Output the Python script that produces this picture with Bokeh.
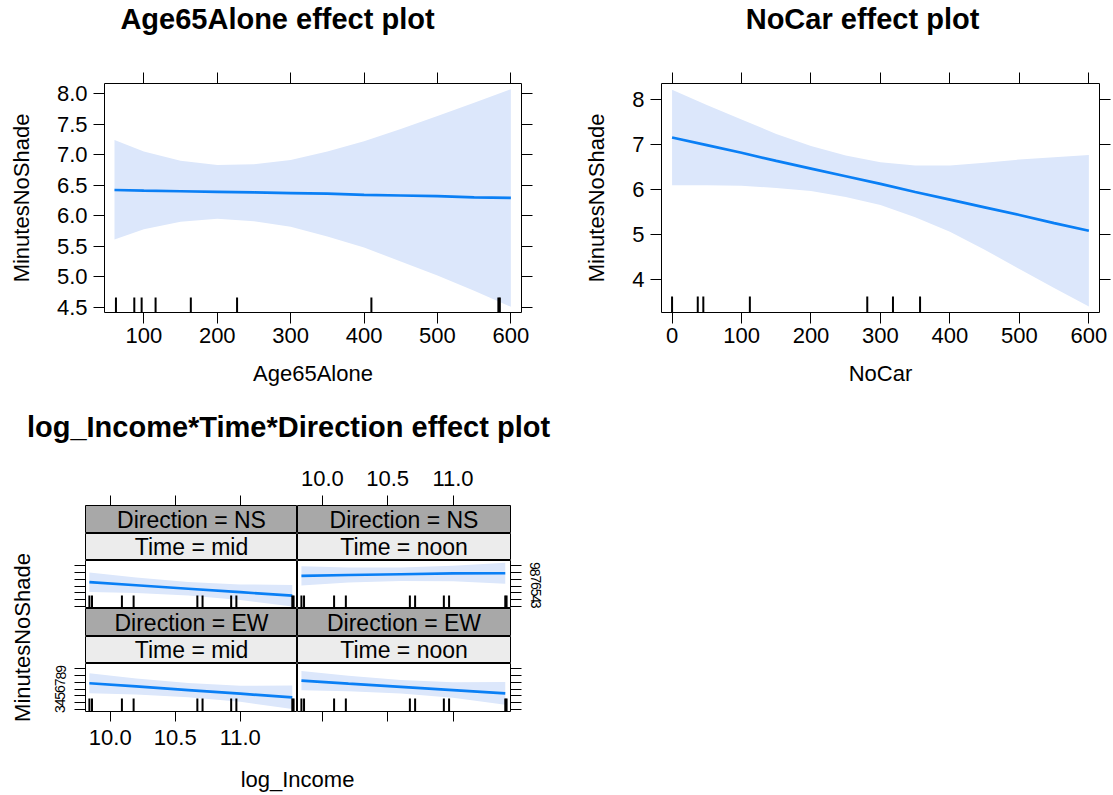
from math import pi
from bokeh.plotting import figure
from bokeh.layouts import column, row
from bokeh.models import FixedTicker, LinearAxis, Range1d, NumeralTickFormatter
from bokeh.embed import file_html
from bokeh.resources import INLINE
from bokeh.core.properties import value

FONT = "Liberation Sans"
LINE_COLOR = "#0a7ff5"
BAND_COLOR = "#dce7fb"
STRIP_DARK = "#a8a8a8"
STRIP_LIGHT = "#ececec"

# ---------------- data ----------------
age65_x = [60, 100, 150, 200, 250, 300, 350, 400, 450, 500, 550, 600]
age65_fit = [6.42, 6.41, 6.40, 6.39, 6.38, 6.37, 6.36, 6.34, 6.33, 6.32, 6.30, 6.29]
age65_upper = [7.24, 7.05, 6.90, 6.83, 6.84, 6.91, 7.05, 7.22, 7.42, 7.63, 7.85, 8.07]
age65_lower = [5.61, 5.78, 5.90, 5.95, 5.91, 5.82, 5.66, 5.48, 5.25, 5.02, 4.77, 4.51]
age65_rug = [62, 87, 97, 116, 164, 227, 410, 583, 585]
age65_xticks = [100, 200, 300, 400, 500, 600]
age65_yticks = [4.5, 5.0, 5.5, 6.0, 6.5, 7.0, 7.5, 8.0]

nocar_x = [0, 50, 100, 150, 200, 250, 300, 350, 400, 450, 500, 550, 600]
nocar_fit = [7.16, 6.99, 6.82, 6.64, 6.47, 6.30, 6.13, 5.95, 5.78, 5.61, 5.44, 5.26, 5.09]
nocar_upper = [8.22, 7.88, 7.56, 7.24, 6.97, 6.76, 6.61, 6.54, 6.54, 6.60, 6.67, 6.72, 6.77]
nocar_lower = [6.10, 6.10, 6.09, 6.04, 5.97, 5.84, 5.66, 5.39, 5.07, 4.67, 4.24, 3.82, 3.41]
nocar_rug = [0, 37, 45, 112, 281, 318, 357]
nocar_xticks = [0, 100, 200, 300, 400, 500, 600]
nocar_yticks = [4, 5, 6, 7, 8]

income_x = [9.84, 10.2, 10.6, 11.0, 11.40]
ns_mid_fit = [6.57, 6.11, 5.59, 5.08, 4.56]
ns_mid_upper = [8.02, 7.26, 6.59, 6.23, 6.16]
ns_mid_lower = [5.12, 4.96, 4.59, 3.93, 2.96]
ns_noon_fit = [7.52, 7.64, 7.75, 7.87, 7.90]
ns_noon_upper = [8.96, 8.74, 8.75, 9.02, 9.45]
ns_noon_lower = [6.08, 6.54, 6.75, 6.72, 6.35]
ew_mid_fit = [6.86, 6.38, 5.84, 5.30, 4.76]
ew_mid_upper = [8.36, 7.58, 6.89, 6.50, 6.51]
ew_mid_lower = [5.36, 5.18, 4.79, 4.10, 3.01]
ew_noon_fit = [7.25, 6.81, 6.33, 5.84, 5.36]
ew_noon_upper = [8.70, 7.96, 7.33, 6.99, 7.06]
ew_noon_lower = [5.80, 5.66, 5.33, 4.69, 3.66]
income_rug = [9.84, 9.86, 10.09, 10.18, 10.67, 10.71, 10.93, 10.97, 11.40, 11.41]
income_xticks = [10.0, 10.5, 11.0]
panel_yticks = [3, 4, 5, 6, 7, 8, 9]

titles = ["Age65Alone effect plot", "NoCar effect plot", "log_Income*Time*Direction effect plot"]


def base_fig(width, height, xr, yr, bl, br, bt, bb, bg="white"):
    p = figure(width=width, height=height, x_range=xr, y_range=yr,
               toolbar_location=None, output_backend="svg",
               x_axis_location=None, y_axis_location=None,
               min_border_left=bl, min_border_right=br,
               min_border_top=bt, min_border_bottom=bb,
               background_fill_color=bg, border_fill_color="white",
               outline_line_color="black", outline_line_width=1)
    p.grid.visible = False
    return p


def add_axis(p, side, ticks, labels=True, size="22px", tick_out=11, standoff=5,
             label=None, label_standoff=18, orient=None, fmt=None):
    ax = LinearAxis(ticker=FixedTicker(ticks=ticks))
    ax.major_tick_out = tick_out
    ax.major_tick_in = 0
    ax.minor_tick_out = 0
    ax.minor_tick_in = 0
    ax.axis_line_color = None
    ax.major_tick_line_color = "black"
    ax.major_tick_line_width = 1
    ax.major_label_text_font = FONT
    if labels:
        ax.major_label_text_color = "black"
        ax.major_label_text_font_size = size
        ax.major_label_standoff = standoff
    else:
        # tick marks only: labels are not painted
        ax.major_label_text_color = None
        ax.major_label_text_font_size = "2px"
        ax.major_label_standoff = 0
    if orient is not None:
        ax.major_label_orientation = orient
    if fmt is not None:
        ax.formatter = NumeralTickFormatter(format=fmt)
    if label is not None:
        ax.axis_label = label
        ax.axis_label_text_font = FONT
        ax.axis_label_text_font_size = "22px"
        ax.axis_label_text_font_style = "normal"
        ax.axis_label_text_color = "black"
        ax.axis_label_standoff = label_standoff
    p.add_layout(ax, side)
    return ax


def draw_effect(p, x, fit, lower, upper, rug, rug_frac):
    p.varea(x=x, y1=lower, y2=upper, fill_color=BAND_COLOR, fill_alpha=1.0)
    p.line(x=x, y=fit, line_color=LINE_COLOR, line_width=2.7)
    y0 = p.y_range.start
    y1 = y0 + rug_frac * (p.y_range.end - p.y_range.start)
    p.segment(x0=rug, y0=[y0] * len(rug), x1=rug, y1=[y1] * len(rug),
              line_color="black", line_width=2)


def text_fig(width, height, texts, xs, ys, size, bold=False, angle=0.0):
    p = figure(width=width, height=height, x_range=Range1d(0, width), y_range=Range1d(0, height),
               toolbar_location=None, output_backend="svg",
               x_axis_location=None, y_axis_location=None, min_border=0,
               outline_line_color=None, border_fill_color="white", background_fill_color="white")
    p.grid.visible = False
    p.text(x=xs, y=ys, text=texts, text_align="center", text_baseline="middle",
           text_font=value(FONT), text_font_size=size,
           text_font_style="bold" if bold else "normal", text_color="black", angle=angle)
    return p


# ---------------- header (titles of the two top panels) ----------------
hdr = text_fig(1113, 40, titles[:2], [277, 862], [22, 22], "29px", bold=True)

# ---------------- top row ----------------
figA = base_fig(565, 360, Range1d(46.4, 614.5), Range1d(4.416, 8.163), 104, 44, 43, 88)
add_axis(figA, "below", age65_xticks, standoff=4, label="Age65Alone", label_standoff=15)
add_axis(figA, "left", age65_yticks, standoff=6, label="MinutesNoShade", label_standoff=20, fmt="0.0")
add_axis(figA, "above", age65_xticks, labels=False)
add_axis(figA, "right", age65_yticks, labels=False)
draw_effect(figA, age65_x, age65_fit, age65_lower, age65_upper, age65_rug, 0.066)

figB = base_fig(548, 360, Range1d(-15.2, 615.3), Range1d(3.276, 8.358), 96, 14, 43, 88)
add_axis(figB, "below", nocar_xticks, standoff=4, label="NoCar", label_standoff=15)
add_axis(figB, "left", nocar_yticks, standoff=6, label="MinutesNoShade", label_standoff=20)
add_axis(figB, "above", nocar_xticks, labels=False)
add_axis(figB, "right", nocar_yticks, labels=False)
draw_effect(figB, nocar_x, nocar_fit, nocar_lower, nocar_upper, nocar_rug, 0.07)

# ---------------- bottom block ----------------
t3 = text_fig(560, 55, [titles[2]], [288], [29], "29px", bold=True)
ylab = text_fig(48, 305, ["MinutesNoShade"], [22], [123], "22px", angle=pi / 2)
xlab = text_fig(560, 35, ["log_Income"], [297], [16], "22px")

XR = (9.81, 11.44)
YR = (2.65, 9.8)


def strip(text, color, width, height, bl, br, bt):
    p = base_fig(width, height, Range1d(*XR), Range1d(0, 1), bl, br, bt, 0, bg=color)
    p.text(x=[(XR[0] + XR[1]) / 2], y=[0.5], text=[text], text_align="center",
           text_baseline="middle", text_font=value(FONT), text_font_size="23px",
           text_color="black")
    return p


def panel(width, height, bl, br, bb, fit, lower, upper):
    p = base_fig(width, height, Range1d(*XR), Range1d(*YR), bl, br, 0, bb)
    draw_effect(p, income_x, fit, lower, upper, income_rug, 0.27)
    return p


# left column (Time = mid)
WL, BL = 249, 37
s1L = strip("Direction = NS", STRIP_DARK, WL, 78, BL, 0, 50)
add_axis(s1L, "above", income_xticks, labels=False, tick_out=10)
s2L = strip("Time = mid", STRIP_LIGHT, WL, 27, BL, 0, 0)
p1L = panel(WL, 48, BL, 0, 0, ns_mid_fit, ns_mid_lower, ns_mid_upper)
add_axis(p1L, "left", panel_yticks, labels=False, tick_out=11)
s3L = strip("Direction = EW", STRIP_DARK, WL, 28, BL, 0, 0)
s4L = strip("Time = mid", STRIP_LIGHT, WL, 27, BL, 0, 0)
p2L = panel(WL, 97, BL, 0, 49, ew_mid_fit, ew_mid_lower, ew_mid_upper)
add_axis(p2L, "left", panel_yticks, size="14px", tick_out=11, standoff=9, orient="vertical")
add_axis(p2L, "below", income_xticks, tick_out=10, standoff=8, fmt="0.0")

# right column (Time = noon)
WR, BR = 248, 35
s1R = strip("Direction = NS", STRIP_DARK, WR, 78, 0, BR, 50)
add_axis(s1R, "above", income_xticks, tick_out=10, standoff=10, fmt="0.0")
s2R = strip("Time = noon", STRIP_LIGHT, WR, 27, 0, BR, 0)
p1R = panel(WR, 48, 0, BR, 0, ns_noon_fit, ns_noon_lower, ns_noon_upper)
add_axis(p1R, "right", panel_yticks, size="14px", tick_out=11, standoff=9, orient="vertical")
s3R = strip("Direction = EW", STRIP_DARK, WR, 28, 0, BR, 0)
s4R = strip("Time = noon", STRIP_LIGHT, WR, 27, 0, BR, 0)
p2R = panel(WR, 97, 0, BR, 49, ew_noon_fit, ew_noon_lower, ew_noon_upper)
add_axis(p2R, "right", panel_yticks, labels=False, tick_out=11)
add_axis(p2R, "below", income_xticks, labels=False, tick_out=10)

colL = column(s1L, s2L, p1L, s3L, s4L, p2L, spacing=0)
colR = column(s1R, s2R, p1R, s3R, s4R, p2R, spacing=0)
bottom = column(t3, row(ylab, colL, colR, spacing=0), xlab, spacing=0)

layout = column(hdr, row(figA, figB, spacing=0), bottom, spacing=0)

open("out.html", "w").write(file_html(layout, INLINE))
